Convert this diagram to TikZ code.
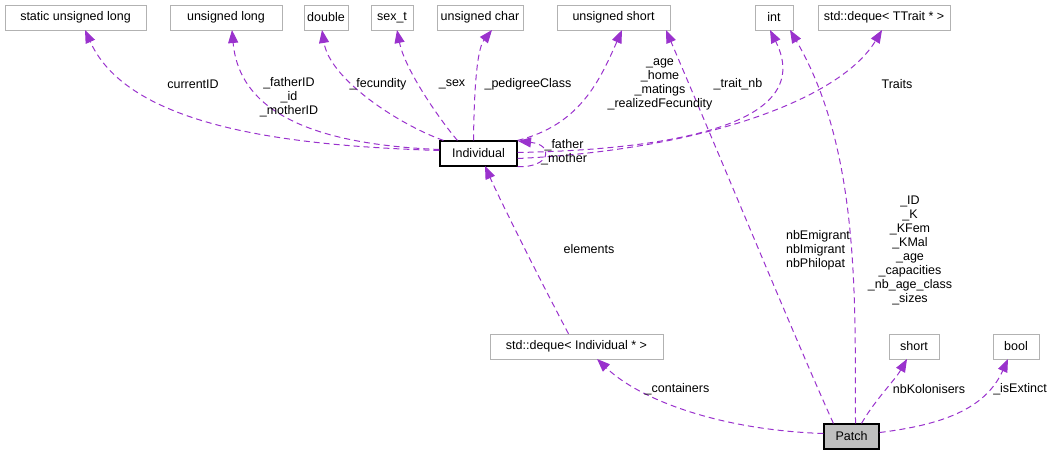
\documentclass[tikz,border=0pt]{standalone}
\usepackage{fontspec}
\setmainfont{Liberation Sans}
\usetikzlibrary{arrows.meta}
\definecolor{ec}{RGB}{154,50,205}
\begin{document}
\begin{tikzpicture}[x=1pt,y=-1pt,
  font=\fontsize{12.5}{14}\selectfont,
  box/.style={draw=black!30,fill=white,minimum height=25pt,inner xsep=3pt,inner ysep=0pt,anchor=center},
  main/.style={box,draw=black,line width=1.2pt},
  e/.style={draw=ec,dash pattern=on 6pt off 4pt,line width=1pt,-{Triangle[length=13pt,width=10pt,fill=ec]}},
  lb/.style={align=center,inner sep=1pt}]
\useasboundingbox (0,0) rectangle (1056,455);
\node[box,minimum width=141pt] (sul) at (75.5,17.5) {static unsigned long};
\node[box,minimum width=112pt] (ul) at (226,17.5) {unsigned long};
\node[box,minimum width=40pt] (dbl) at (326,17.5) {double};
\node[box,minimum width=42pt] (sex) at (392,17.5) {sex\_t};
\node[box,minimum width=86pt] (uc) at (480,17.5) {unsigned char};
\node[box,minimum width=113pt] (us) at (613.5,17.5) {unsigned short};
\node[box,minimum width=38pt] (int) at (774,17.5) {int};
\node[box,minimum width=132pt] (dt) at (884,17.5) {std::deque< TTrait * >};
\node[main,minimum width=77pt] (ind) at (478.5,153.5) {Individual};
\node[box,minimum width=173pt] (di) at (576.5,346.5) {std::deque< Individual * >};
\node[box,minimum width=50pt] (sh) at (914,346.5) {short};
\node[box,minimum width=46pt] (bo) at (1016,346.5) {bool};
\node[main,fill=black!25,minimum width=55pt] (pa) at (851.5,436.5) {Patch};
\draw[e] (ind.west) ++(0,-3) .. controls (300,146) and (130,130) .. (85,30);
\draw[e] (ind.west) ++(0,-4) .. controls (330,145) and (240,120) .. (232,30);
\draw[e] (ind.north west) ++(4,0) .. controls (400,125) and (330,80) .. (322,30);
\draw[e] (ind.north west) ++(18,0) .. controls (440,120) and (405,70) .. (397,30);
\draw[e] (ind.north) ++(-5,0) .. controls (474,100) and (476,50) .. (492,30);
\draw[e] (ind.north east) ++(0,0) .. controls (580,125) and (600,80) .. (622,30);
\draw[e] (ind.east) ++(0,-1) .. controls (650,150) and (820,130) .. (770,30);
\draw[e] (ind.east) ++(0,5) .. controls (700,150) and (840,100) .. (882,30);
\draw[e] (ind.south east) ++(0,0) .. controls (550,168) and (555,145) .. (518,141);
\draw[e] (di.north) ++(-8,0) .. controls (540,280) and (500,200) .. (485,166);
\draw[e] (pa.west) ++(0,-3) .. controls (720,430) and (640,400) .. (597,359);
\draw[e] (pa.north west) ++(10,0) .. controls (800,350) and (730,180) .. (666,30);
\draw[e] (pa.north) ++(4,0) .. controls (855,300) and (860,150) .. (790,30);
\draw[e] (pa.north) ++(10,0) .. controls (875,400) and (895,380) .. (907,359);
\draw[e] (pa.east) ++(0,-4) .. controls (940,425) and (985,410) .. (1008,359);
\node[lb] (l1) at (193,84) {currentID};
\node[lb] (l2) at (289,97) {\_fatherID\\\_id\\\_motherID};
\node[lb] (l3) at (378,84) {\_fecundity};
\node[lb] (l4) at (452,84) {\_sex};
\node[lb] (l5) at (528,84) {\_pedigreeClass};
\node[lb] (l6) at (660,84) {\_age\\\_home\\\_matings\\\_realizedFecundity};
\node[lb] (l7) at (738,84) {\_trait\_nb};
\node[lb] (l8) at (897,84) {Traits};
\node[lb] (l9) at (564,152) {\_father\\\_mother};
\node[lb] (l10) at (589,249) {elements};
\node[lb] (l11) at (677,389) {\_containers};
\node[lb,align=left] (l12) at (818,250) {nbEmigrant\\nbImigrant\\nbPhilopat};
\node[lb] (l13) at (910,250) {\_ID\\\_K\\\_KFem\\\_KMal\\\_age\\\_capacities\\\_nb\_age\_class\\\_sizes};
\node[lb] (l14) at (929,389) {nbKolonisers};
\node[lb] (l15) at (1020,389) {\_isExtinct};
\end{tikzpicture}
\end{document}
